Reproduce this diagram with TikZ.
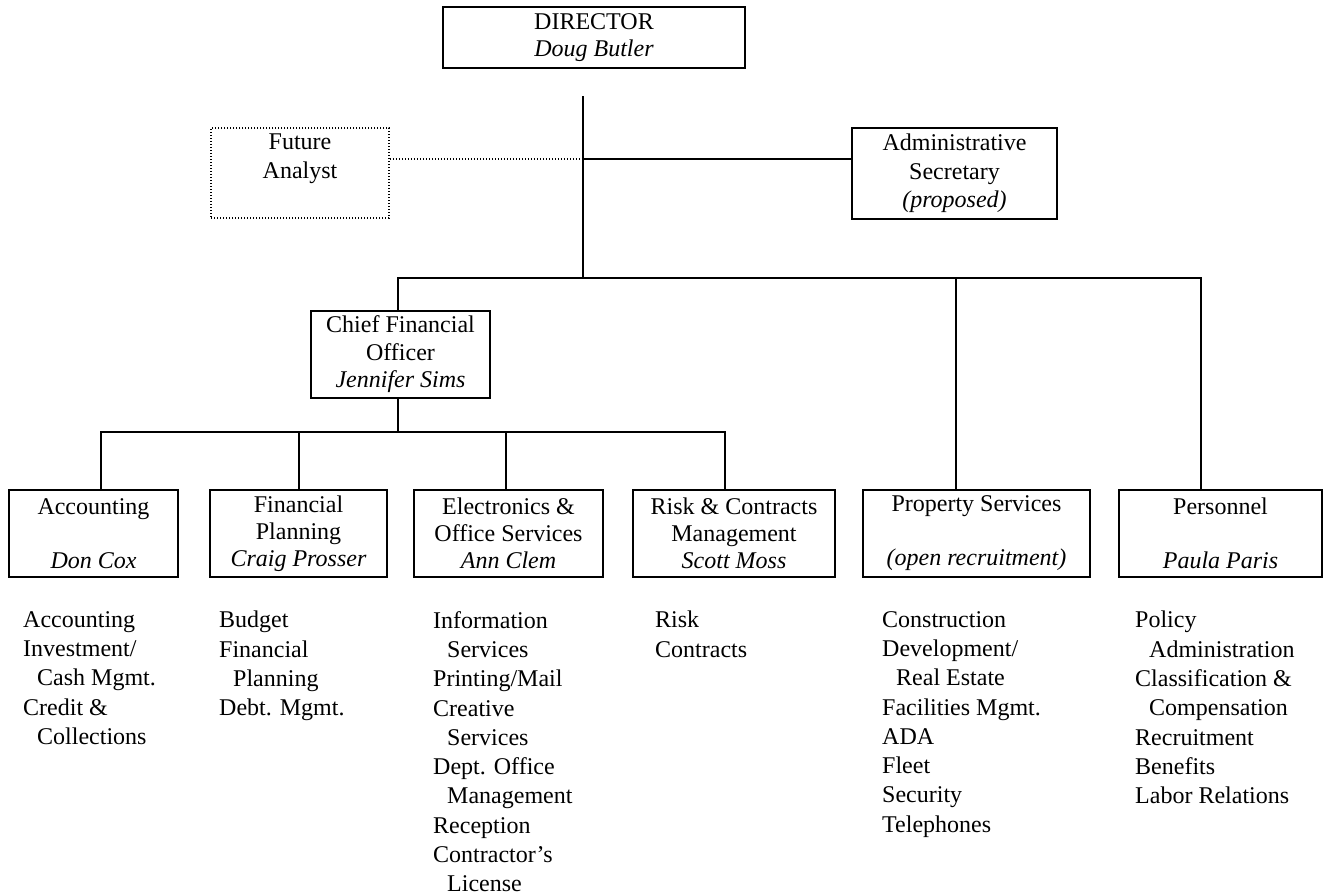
\documentclass[tikz,border=0pt]{standalone}
\usepackage{fontspec}
\setmainfont{Liberation Serif}
\begin{document}
\begin{tikzpicture}[x=1pt,y=-1pt,
  ln/.style={line width=1.8pt, line cap=rect},
  dotln/.style={line width=1.6pt, dash pattern=on 1.4pt off 1.6pt},
  box/.style={draw, line width=1.8pt, inner sep=0pt, align=center,
    font=\fontsize{24}{28}\selectfont},
  lowbox/.style={box, minimum height=87pt, font=\fontsize{24}{27}\selectfont},
  dotbox/.style={box, dotln},
  lst/.style={inner sep=0pt, anchor=north west, align=left,
    font=\fontsize{24}{29.3}\selectfont}
]
\newcommand{\ind}{\hspace*{14pt}}
\fill[white] (0,0) rectangle (1326,895);
\useasboundingbox (0,0) rectangle (1326,895);

% top level
\node[box, minimum width=302pt, minimum height=61pt, font=\fontsize{24}{27}\selectfont]
  (dir) at (594,37.5) {DIRECTOR\\\textit{Doug Butler}};
\node[dotbox, minimum width=178pt, minimum height=90pt, font=\fontsize{24}{29}\selectfont]
  (fut) at (300,173) {Future\\Analyst\\[4pt]~};
\node[box, minimum width=205pt, minimum height=91pt, font=\fontsize{24}{28.5}\selectfont]
  (adm) at (954.5,173.5) {Administrative\\Secretary\\\textit{(proposed)}};
\node[box, minimum width=179pt, minimum height=87pt, font=\fontsize{24}{27.5}\selectfont]
  (cfo) at (400.5,354.5) {Chief Financial\\Officer\\\textit{Jennifer Sims}};

% lower boxes
\node[lowbox, minimum width=169pt] (acc) at (93.5,533.5) {Accounting\\~\\\textit{Don Cox}};
\node[lowbox, minimum width=177pt] (fin) at (298.5,533.5) {Financial\\Planning\\\textit{Craig Prosser}};
\node[lowbox, minimum width=189pt] (ele) at (508.5,533.5) {Electronics \&\\Office Services\\\textit{Ann Clem}};
\node[lowbox, minimum width=202pt] (risk) at (734,533.5) {Risk \& Contracts\\Management\\\textit{Scott Moss}};
\node[lowbox, minimum width=227pt] (prop) at (976.5,533.5) {Property Services\\~\\\textit{(open recruitment)}};
\node[lowbox, minimum width=203pt] (pers) at (1220.5,533.5) {Personnel\\~\\\textit{Paula Paris}};

% attachment points
\coordinate (dtop) at (583,97);
\coordinate (j1) at (583,159);
\coordinate (j2) at (583,278);
\coordinate (j3) at (398,432);
\coordinate (accT) at (101,490);
\coordinate (finT) at (299,490);
\coordinate (eleT) at (506,490);
\coordinate (riskT) at (725,490);
\coordinate (propT) at (956,490);
\coordinate (persT) at (1201,490);

% connectors
\draw[ln] (dtop) -- (j2);
\draw[dotln] (fut.east |- j1) -- (j1);
\draw[ln] (j1) -- (adm.west |- j1);
\draw[ln] (cfo.north -| j3) |- (persT |- j2) -- (persT);
\draw[ln] (propT |- j2) -- (propT);
\draw[ln] (cfo.south -| j3) -- (j3);
\draw[ln] (accT) |- (riskT |- j3) -- (riskT);
\draw[ln] (finT |- j3) -- (finT);
\draw[ln] (eleT |- j3) -- (eleT);

% lists
\node[lst] (accL) at (23,611) {Accounting\\Investment/\\\ind Cash Mgmt.\\Credit \&\\\ind Collections};
\node[lst] (finL) at (219,611) {Budget\\Financial\\\ind Planning\\Debt. Mgmt.};
\node[lst] (eleL) at (433,611) {Information\\\ind Services\\Printing/Mail\\Creative\\\ind Services\\Dept. Office\\\ind Management\\Reception\\Contractor's\\\ind License};
\node[lst] (riskL) at (655,611) {Risk\\Contracts};
\node[lst] (propL) at (882,611) {Construction\\Development/\\\ind Real Estate\\Facilities Mgmt.\\ADA\\Fleet\\Security\\Telephones};
\node[lst] (persL) at (1135,611) {Policy\\\ind Administration\\Classification \&\\\ind Compensation\\Recruitment\\Benefits\\Labor Relations};
\end{tikzpicture}
\end{document}
